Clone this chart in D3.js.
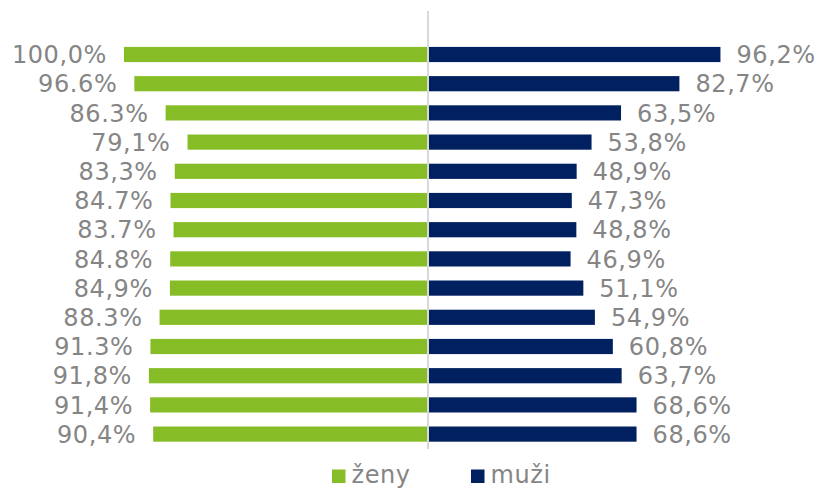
<!DOCTYPE html>
<html>
<head>
<meta charset="utf-8">
<script src="https://cdn.jsdelivr.net/npm/d3@7"></script>
<style>
  html, body { margin: 0; padding: 0; background: #fff; }
  svg { display: block; }
  text { font-family: "DejaVu Sans", Verdana, sans-serif; fill: #858585; letter-spacing: 0.6px; }
</style>
</head>
<body>
<svg id="chart" width="818" height="489"></svg>
<script>
// Row order top to bottom
const rows = d3.range(14);

// Share of women (left) and men (right), in percent
const women = [100.0, 96.6, 86.3, 79.1, 83.3, 84.7, 83.7, 84.8, 84.9, 88.3, 91.3, 91.8, 91.4, 90.4];
const men   = [96.2, 82.7, 63.5, 53.8, 48.9, 47.3, 48.8, 46.9, 51.1, 54.9, 60.8, 63.7, 68.6, 68.6];

// Decimal separator used in each women's label
const womenSep = [",", ".", ".", ",", ",", ".", ".", ".", ",", ".", ".", ",", ",", ","];
const menSep = ",";

const seriesNames = ["ženy", "muži"];
const colors = { women: "#86bc25", men: "#002060" };

const svg = d3.select("#chart");
const fontSize = 24;

const x = d3.scaleLinear().domain([-100, 100]).range([124, 732]);
const y = d3.scaleBand().domain(rows).range([39.9, 448.7]).paddingInner(0.48).paddingOuter(0.24);

const fmt = (v, sep) => v.toFixed(1).replace(".", sep) + "%";

// Women bars extend left from zero
svg.append("g").selectAll("rect").data(rows).join("rect")
  .attr("x", i => x(-women[i]))
  .attr("y", i => y(i))
  .attr("width", i => x(0) - x(-women[i]))
  .attr("height", y.bandwidth())
  .attr("fill", colors.women);

// Men bars extend right from zero
svg.append("g").selectAll("rect").data(rows).join("rect")
  .attr("x", x(0))
  .attr("y", i => y(i))
  .attr("width", i => x(men[i]) - x(0))
  .attr("height", y.bandwidth())
  .attr("fill", colors.men);

// Centre axis line
svg.append("line")
  .attr("x1", x(0)).attr("x2", x(0))
  .attr("y1", 11).attr("y2", 449)
  .attr("stroke", "#d9d9d9").attr("stroke-width", 2);

// Value labels
svg.append("g").selectAll("text").data(rows).join("text")
  .attr("x", i => x(-women[i]) - 17)
  .attr("y", i => y(i) + y.bandwidth() / 2)
  .attr("dy", "0.36em")
  .attr("text-anchor", "end")
  .attr("font-size", fontSize)
  .text(i => fmt(women[i], womenSep[i]));

svg.append("g").selectAll("text").data(rows).join("text")
  .attr("x", i => x(men[i]) + 16)
  .attr("y", i => y(i) + y.bandwidth() / 2)
  .attr("dy", "0.36em")
  .attr("text-anchor", "start")
  .attr("font-size", fontSize)
  .text(i => fmt(men[i], menSep));

// Legend
const legend = svg.append("g");
const legendItems = [
  { name: seriesNames[0], color: colors.women, x: 332 },
  { name: seriesNames[1], color: colors.men, x: 471 }
];
legend.selectAll("rect").data(legendItems).join("rect")
  .attr("x", d => d.x).attr("y", 469.5)
  .attr("width", 13.5).attr("height", 13.5)
  .attr("fill", d => d.color);
legend.selectAll("text").data(legendItems).join("text")
  .attr("x", d => d.x + 19.5).attr("y", 483)
  .attr("font-size", fontSize)
  .text(d => d.name);
</script>
</body>
</html>
